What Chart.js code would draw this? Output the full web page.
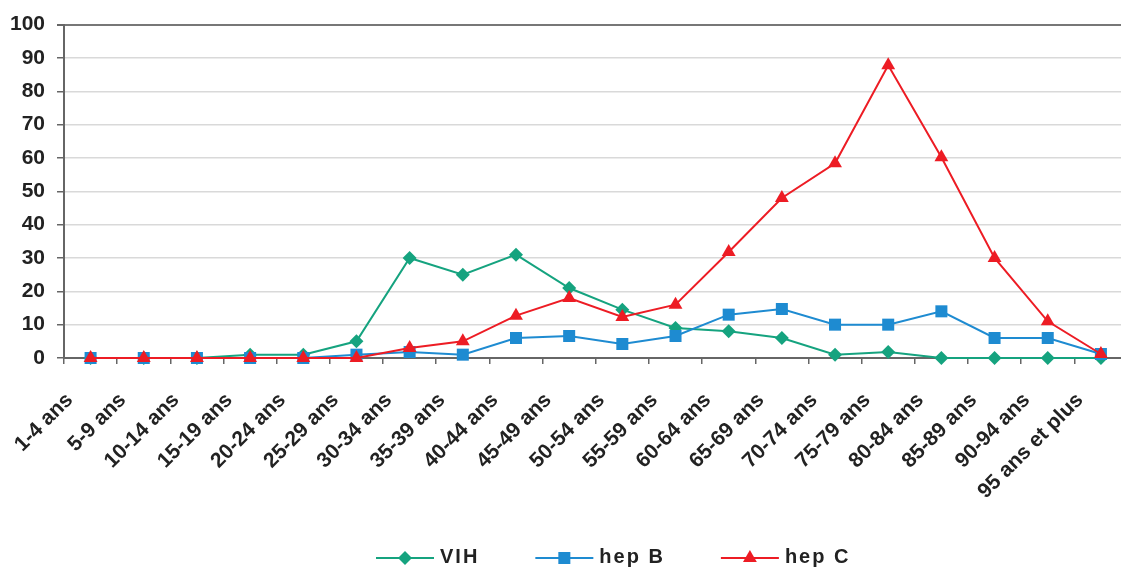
<!DOCTYPE html>
<html>
<head>
<meta charset="utf-8">
<script src="https://cdn.jsdelivr.net/npm/chart.js@4/dist/chart.umd.min.js"></script>
<style>
  html, body { margin: 0; padding: 0; background: #fff; overflow: hidden; }
  #wrap { width: 1136px; height: 567px; }
</style>
</head>
<body>
<div id="wrap"><canvas id="chart" width="1136" height="567"></canvas></div>
<script>
const ageGroups = ['1-4 ans', '5-9 ans', '10-14 ans', '15-19 ans', '20-24 ans', '25-29 ans',
    '30-34 ans', '35-39 ans', '40-44 ans', '45-49 ans', '50-54 ans', '55-59 ans',
    '60-64 ans', '65-69 ans', '70-74 ans', '75-79 ans', '80-84 ans', '85-89 ans',
    '90-94 ans', '95 ans et plus'];

const vih  = [0, 0, 0, 1, 1, 5, 30, 25, 31, 21, 14.5, 9, 8, 6, 1, 1.8, 0, 0, 0, 0];
const hepB = [0, 0, 0, 0, 0, 1, 1.8, 1, 6, 6.6, 4.2, 6.6, 13, 14.7, 10, 10, 14, 6, 6, 1.2];
const hepC = [0, 0, 0, 0, 0, 0, 3, 5, 12.7, 18, 12.3, 16, 31.8, 48, 58.4, 87.8, 60.2, 30, 11, 1.2];

const yTicks = [0, 10, 20, 30, 40, 50, 60, 70, 80, 90, 100];

const GREEN = '#15a37f';
const BLUE = '#1e8bd1';
const RED = '#ed1c24';
const FONT = '"Liberation Sans", Arial, sans-serif';

function series(label, data, colour, style, radius, order) {
    return {
        label: label,
        data: data,
        borderColor: colour,
        backgroundColor: colour,
        borderWidth: 2,
        pointStyle: style,
        pointRadius: radius,
        pointHoverRadius: radius,
        pointBorderWidth: 0,
        tension: 0,
        clip: false,
        order: order
    };
}

// legend drawn by hand: line with a marker in the middle, then the label
const lineLegend = {
    id: 'lineLegend',
    afterDraw(chart) {
        const ctx = chart.ctx;
        const y = 557;
        let x = 376;
        ctx.save();
        ctx.font = 'bold 20px ' + FONT;
        ctx.letterSpacing = '2px';
        ctx.textBaseline = 'middle';
        ctx.textAlign = 'left';
        chart.data.datasets.forEach(ds => {
            ctx.strokeStyle = ds.borderColor;
            ctx.lineWidth = 2;
            ctx.beginPath();
            ctx.moveTo(x, y + 1);
            ctx.lineTo(x + 58, y + 1);
            ctx.stroke();
            drawMarker(ctx, ds.pointStyle, x + 29, y + 1, ds.pointRadius, ds.backgroundColor);
            ctx.fillStyle = '#222';
            ctx.fillText(ds.label, x + 64, y);
            x += 64 + ctx.measureText(ds.label).width + 56;
        });
        ctx.restore();
    }
};

function drawMarker(ctx, style, x, y, r, colour) {
    ctx.fillStyle = colour;
    ctx.beginPath();
    if (style === 'rectRot') {
        ctx.moveTo(x, y - r);
        ctx.lineTo(x + r, y);
        ctx.lineTo(x, y + r);
        ctx.lineTo(x - r, y);
    } else if (style === 'rect') {
        const s = r * Math.SQRT1_2;
        ctx.rect(x - s, y - s, 2 * s, 2 * s);
    } else {
        ctx.moveTo(x, y - r);
        ctx.lineTo(x + r * Math.sin(Math.PI / 3), y + r / 2);
        ctx.lineTo(x - r * Math.sin(Math.PI / 3), y + r / 2);
    }
    ctx.closePath();
    ctx.fill();
}

new Chart(document.getElementById('chart'), {
    type: 'line',
    data: {
        labels: ageGroups,
        datasets: [
            series('VIH', vih, GREEN, 'rectRot', 7, 2),
            series('hep B', hepB, BLUE, 'rect', 8.5, 1),
            series('hep C', hepC, RED, 'triangle', 8, 0)
        ]
    },
    options: {
        responsive: false,
        animation: false,
        layout: { padding: { top: 24, right: 1, bottom: 0, left: 0 } },
        plugins: {
            legend: { display: false },
            tooltip: { enabled: false }
        },
        scales: {
            x: {
                offset: true,
                afterFit(scale) {
                    scale.height = 209;
                    scale.paddingLeft = 0;
                    scale.paddingRight = 0;
                },
                border: { color: '#666', width: 2 },
                grid: {
                    offset: true,
                    drawOnChartArea: false,
                    tickLength: 6,
                    color: '#666',
                    lineWidth: 1.5
                },
                ticks: {
                    autoSkip: false,
                    minRotation: 45,
                    maxRotation: 45,
                    padding: 24,
                    labelOffset: -21,
                    color: '#222',
                    font: { family: FONT, size: 21, weight: 'bold' }
                }
            },
            y: {
                min: 0,
                max: 100,
                afterFit(scale) { scale.width = 64; },
                afterBuildTicks(scale) { scale.ticks = yTicks.map(v => ({ value: v })); },
                border: { color: '#666', width: 2 },
                grid: {
                    tickLength: 7,
                    lineWidth: ctx => (ctx.tick && ctx.tick.value === 100 ? 2 : 1.5),
                    color: ctx => (ctx.tick && ctx.tick.value === 100 ? '#777' : '#d9d9d9'),
                    tickColor: '#666'
                },
                ticks: {
                    padding: 12,
                    color: '#222',
                    font: { family: FONT, size: 21, weight: 'bold' }
                }
            }
        }
    },
    plugins: [lineLegend]
});
</script>
</body>
</html>
